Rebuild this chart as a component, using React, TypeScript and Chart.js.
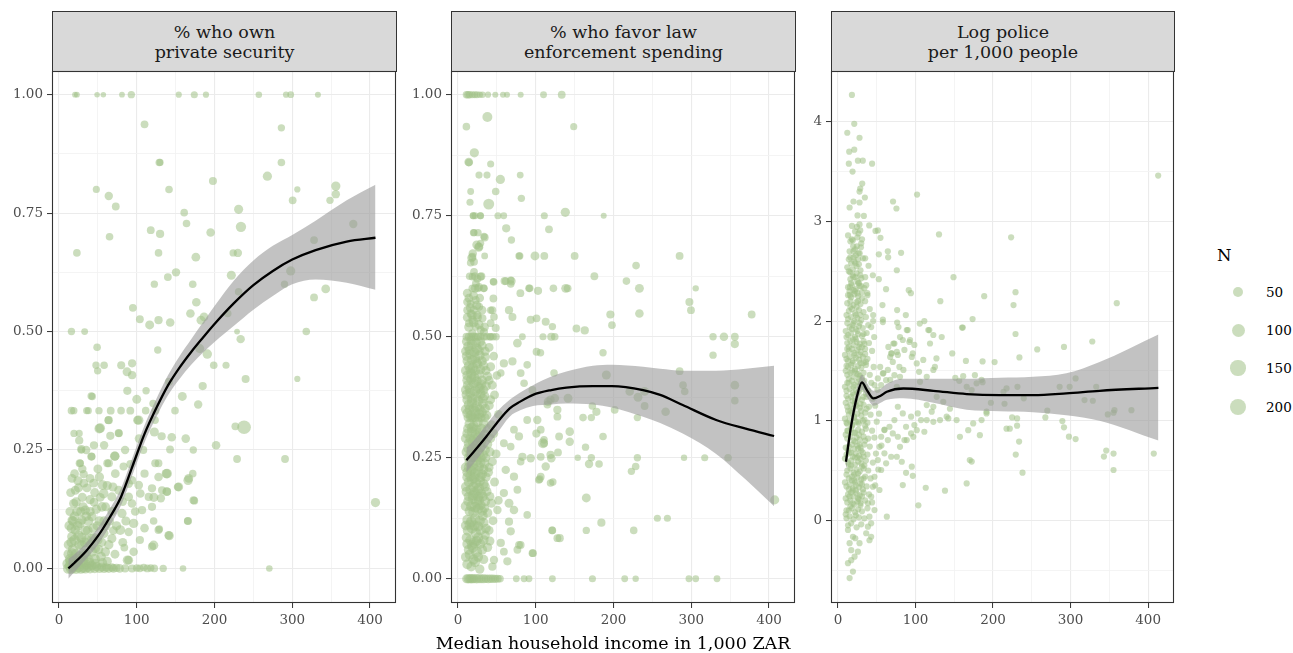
import React, { useEffect, useRef } from 'react';
import { Chart, registerables } from 'chart.js';

Chart.register(...registerables);
Chart.defaults.font.family = "'DejaVu Serif', serif";

const incomeTicks = [0, 100, 200, 300, 400];
const incomeMinorTicks = [50, 150, 250, 350];
const shareTicks = [0, 0.25, 0.5, 0.75, 1];
const shareMinorTicks = [0.125, 0.375, 0.625, 0.875];
const policeTicks = [0, 1, 2, 3, 4];
const policeMinorTicks = [-0.5, 0.5, 1.5, 2.5, 3.5];
const sizeLegendN = [50, 100, 150, 200];
const facetTitles = [
  ['% who own', 'private security'],
  ['% who favor law', 'enforcement spending'],
  ['Log police', 'per 1,000 people'],
];
const xAxisTitle = 'Median household income in 1,000 ZAR';
const legendTitle = 'N';

// [income (1,000 ZAR), share, N]
const securityPoints: number[][] = [
  [20.6,1,4],[23,1,4],[49,1,3],[57,1,3],[81,1,4],[93,1,14],[154,1,6],[174,1,12],[189,1,6],[257,1,8],[292,1,6],[298,1,10],[333,1,5],
  [110,0.9375,18],[286,0.93,14],[129,0.857,16],[130,0.857,12],[286,0.857,16],[268,0.828,34],[198,0.818,20],[141.5,0.8,16],[48,0.8,12],
  [64,0.786,24],[73,0.764,18],[306.5,0.8,6],[356,0.807,34],[356,0.79,24],[348.5,0.777,14],[300.5,0.777,18],[161,0.751,16],[231,0.758,32],
  [234,0.721,50],[164,0.728,16],[118,0.714,18],[130,0.706,22],[195,0.709,26],[65,0.7,16],[23,0.666,16],[128,0.666,16],[224,0.666,14],
  [230,0.666,24],[176,0.657,28],[378.5,0.727,24],[328,0.693,18],[221.6,0.619,32],[150.5,0.625,24],[140,0.615,18],[122.6,0.6,14],[172,0.6,16],
  [298,0.628,34],[290,0.6,14],[231,0.584,16],[176.6,0.562,26],[328,0.572,18],[343,0.59,28],[95,0.55,18],[169,0.538,26],[186.5,0.531,28],
  [217,0.538,16],[104,0.526,18],[116.6,0.514,30],[128,0.524,22],[143,0.519,26],[182.6,0.524,30],
  [16,0.5,14],[33,0.5,10],[229,0.5,4],[318,0.5,16],
  [233.6,0.484,24],[49,0.467,16],[127,0.461,14],[190.7,0.4525,36],[181,0.464,32],[47.6,0.429,14],[58,0.429,16],[80,0.429,20],[94,0.433,22],
  [87.5,0.415,30],[94,0.408,22],[49.7,0.417,14],[199,0.429,16],[214.8,0.429,12],[240,0.4,20],[306.5,0.4,6],[141.5,0.394,18],[184.8,0.385,22],
  [87.9,0.375,22],[112,0.375,14],[42.8,0.363,14],[100,0.357,30],[158.6,0.363,30],[121,0.348,16],[179,0.346,24],
  [16,0.333,16],[19,0.333,14],[35.6,0.333,12],[37.7,0.333,12],[51.4,0.333,14],[66.5,0.333,18],[79.8,0.333,16],[91.7,0.333,18],[111.5,0.333,16],
  [124,0.333,18],[149.2,0.333,16],
  [63.4,0.313,18],[51.8,0.295,40],[101,0.313,28],[123.5,0.313,16],[19.3,0.285,14],[26,0.285,12],[77,0.285,16],[122.6,0.288,32],[132,0.279,22],
  [145,0.277,26],[163,0.274,26],[226.8,0.3,18],[238,0.298,115],[202,0.26,26],[103,0.274,28],[108.5,0.25,18],[142.8,0.251,18],[172.7,0.25,14],
  [229,0.231,18],[290.7,0.231,18],[28.7,0.25,16],[42,0.236,16],[72,0.237,32],[62,0.222,18],[27.4,0.222,14],[128,0.222,18],[138,0.2,36],
  [172,0.2,16],[166,0.186,36],[153,0.172,24],[138.5,0.162,28],[122,0.15,32],[131,0.148,24],[174,0.143,18],[407,0.139,34],[165.5,0.1,16],
  [121.7,0.1,16],[129,0.083,16],[141.9,0.069,30],[121.7,0.049,36],[88,0.0175,36],[84,0.044,18],[270.5,0,8],[159.5,0,8],
  [134,0,14],[122.6,0,16],[113.6,0,18],[104,0,16],[94,0,20],[85,0,22],[78,0,26],[70,0,28],[64,0,30],[58,0,34],[52,0,36],[46,0,40],[40,0,44],
  [34,0,48],[28,0,55],[22,0,60],[16,0,65],[12,0,55],[18,0.003,70],[25,0.004,60],[31,0.002,50],[37,0.003,45],[14,0.006,50],[20,0.01,60],
  [24,0.014,55],[30,0.012,50],[35,0.008,45],[42,0.006,40],[48,0.004,34],[55,0.003,30],[61,0.002,26],[68,0.002,24],[74,0.001,22],[100,0.001,16],
  [109,0.002,16],[118,0.001,14],
  [41.5,0.364,16],[53,0.296,40],[76.8,0.286,20],[64,0.313,22],[102.5,0.313,36],[28.7,0.252,22],[41.6,0.236,22],[71.6,0.237,36],[64,0.222,22],
  [26.6,0.222,20],[16.7,0.19,30],[31.7,0.199,24],[24.4,0.185,34],[21,0.165,30],[52,0.193,34],[44.6,0.18,30],[56,0.176,40],[72.4,0.2,28],
  [57.4,0.158,40],[69.4,0.172,32],[83,0.215,20],[93.9,0.186,24],[102.5,0.176,28],[104.6,0.158,26],[119.6,0.169,22],[89.6,0.151,28],[81.9,0.141,26],
  [18.9,0.137,34],[33.8,0.123,36],[29.6,0.102,32],[16.7,0.102,32],[21,0.081,40],[42.4,0.109,36],[55.3,0.13,40],[68,0.12,32],[81,0.116,34],
  [96,0.095,36],[78.8,0.081,40],[89.6,0.077,24],[57.4,0.074,40],[42.4,0.063,40],[68,0.063,32],[16.7,0.067,40],[29.6,0.049,45],[46.7,0.042,36],
  [59.6,0.035,36],[16.7,0.032,45],[38.2,0.0175,45],[89.6,0.0175,30],[119.6,0.046,22],[128,0.081,20],[141,0.07,26],[115.4,0.151,22],[119.6,0.13,22],
  [106.8,0.123,22],[132.5,0.165,20],[139,0.162,22],[128,0.193,26],[123.8,0.222,20],[139,0.2,40],[154,0.172,30],[166.8,0.19,30],[173,0.144,20],
  [165.9,0.1,20],[89.6,0.179,26],[93.9,0.137,26],[76.8,0.165,30],[68,0.151,32],
  [14,0.02,45],[18,0.04,50],[22,0.03,55],[26,0.05,45],[32,0.03,50],[36,0.06,45],[24,0.09,40],[28,0.12,34],[20,0.11,38],[34,0.08,45],[38,0.1,40],
  [44,0.085,40],[50,0.06,36],[52,0.1,40],[48,0.125,36],[40,0.145,34],[30,0.15,32],[22,0.14,38],[14,0.12,30],[12,0.05,34],[16,0.085,38],[26,0.02,50],
  [46,0.02,50],[54,0.025,40],[62,0.015,34],[72,0.03,30],[64,0.05,36],[60,0.09,38],[36,0.17,30],[46,0.16,32],[62,0.175,34],[30,0.21,24],[20,0.2,28],
  [50,0.21,30],[58,0.1,36],[74,0.09,34],[82,0.055,30],[96,0.035,26],[104,0.06,22],[110,0.085,26],[98,0.12,26],[86,0.1,32],
  [11,0.01,50],[15,0.015,55],[19,0.02,60],[23,0.008,60],[27,0.025,55],[31,0.018,50],[35,0.03,45],[39,0.012,45],[43,0.035,40],[47,0.01,40],
  [51,0.04,36],[56,0.012,34],[12,0.03,40],[16,0.055,45],[20,0.06,50],[25,0.07,48],[29,0.065,45],[33,0.055,44],[37,0.08,40],[41,0.05,40],
  [45,0.065,36],[49,0.09,34],[55,0.055,32],[13,0.09,36],[18,0.1,40],[23,0.12,38],[27,0.095,40],[31,0.13,34],[35,0.11,36],[40,0.12,34],
  [45,0.14,30],[53,0.15,30],[60,0.13,30],[65,0.1,30],[70,0.08,28],[15,0.16,30],[25,0.17,32],[32,0.18,28],[40,0.19,28],[26,0.27,22],[35,0.25,24],
  [45,0.26,22],[58,0.26,24],[66,0.28,22],[85,0.25,24],[92,0.22,22],[110,0.2,22],
];

// [income (1,000 ZAR), share, N]
const spendingPoints: number[][] = [
  [10.8,1,14],[12.9,1,16],[15,1,14],[18.5,1,12],[21.5,1,10],[24.4,1,10],[27.9,1,8],[31.4,1,8],[38.6,1,6],[48,1,5],[57.9,1,5],[63,1,5],[80.6,1,5],
  [110,1,10],[133.4,1,18],
  [37.8,0.954,44],[10.8,0.934,16],[148.8,0.934,12],[21,0.88,34],[13.8,0.861,28],[42,0.857,12],[27,0.834,12],[37.3,0.834,12],[54.5,0.825,34],
  [80,0.834,10],[16.3,0.8,10],[48.5,0.8,16],[81.5,0.786,14],[15.4,0.778,12],[39.5,0.774,60],
  [19.3,0.75,10],[22,0.75,10],[28.8,0.75,10],[51.4,0.75,12],[58.8,0.75,10],[111,0.75,12],[187.4,0.75,5],[138,0.757,34],
  [62,0.724,22],[117,0.722,18],[68.7,0.7,14],[20,0.715,14],[25.7,0.715,14],[34.3,0.705,20],[26.6,0.685,34],[24,0.69,28],[17.6,0.663,30],
  [19,0.672,24],[34.3,0.667,10],[79.4,0.667,14],[99,0.667,30],[111,0.667,18],[150,0.667,18],[285,0.667,18],[229,0.647,16],[175.4,0.625,18],
  [216.6,0.615,16],[305.7,0.6,7],[233.3,0.6,30],[138.5,0.6,30],[141,0.6,18],[122.7,0.6,16],[92.2,0.6,16],[102.9,0.595,22],[80.2,0.59,18],
  [68.7,0.615,26],[60,0.615,22],[45.9,0.613,16],[15,0.625,16],[21.5,0.625,18],[30,0.625,20],[18.5,0.6,18],[25.7,0.6,20],[33,0.6,16],
  [297.6,0.572,20],[299.6,0.555,18],[377.7,0.546,18],[196,0.546,22],[198,0.524,16],[233.3,0.548,26],
  [152.3,0.517,18],[163,0.513,22],[186.5,0.467,14],[356,0.485,22],[328,0.462,14],[285,0.429,18],[289.4,0.4,16],[291.6,0.387,16],[356,0.4,28],
  [356,0.368,16],[190.8,0.421,32],[141.5,0.373,30],[115.8,0.366,26],[124.4,0.373,28],[220.8,0.387,26],[231.5,0.375,30],[240,0.387,28],
  [240,0.357,18],[267,0.345,26],[172.8,0.357,16],[178,0.345,22],[201.5,0.349,18],[160.8,0.333,16],[171.5,0.333,14],[230.7,0.333,14],
  [143.7,0.304,26],[143.7,0.283,24],[130,0.294,18],[109.3,0.28,44],[100.8,0.3,22],[164,0.272,14],[186.5,0.294,16],[128.6,0.261,18],
  [120,0.249,26],[154,0.25,7],[171.5,0.25,14],[168.5,0.237,24],[181.4,0.237,16],[230.7,0.25,14],[228.5,0.232,16],[223,0.222,14],[290.7,0.25,7],
  [317.3,0.25,12],[347.3,0.25,16],[112.8,0.232,24],[105,0.206,18],[122,0.2,14],[165,0.167,30],[407.3,0.163,32],[184.4,0.116,22],[256.4,0.125,12],
  [269.3,0.125,12],[165,0.1,14],[226,0.1,16],[121,0.1,16],[130.8,0.084,22],[96.5,0.053,18],[78.5,0.07,18],[63.5,0.036,22],
  [11,0.5,20],[14,0.5,24],[17,0.5,20],[20,0.5,26],[23,0.5,18],[26,0.5,22],[29,0.5,18],[33,0.5,20],[37,0.5,16],[41,0.5,14],[45,0.5,16],[49,0.5,14],
  [82.8,0.5,10],[109.3,0.5,12],[120,0.5,22],[124.4,0.5,16],[328,0.5,14],[342,0.5,26],[356,0.5,18],
  [11,0,30],[13,0,34],[15,0,30],[17,0,36],[19,0,32],[21,0,30],[24,0,36],[27,0,32],[30,0,30],[33,0,32],[36,0,26],[39,0,28],[42,0,24],[45,0,26],
  [48,0,22],[51,0,20],[54,0,16],[75,0,10],[85,0,10],[91.3,0,10],[121.4,0,10],[172.9,0,12],[214.4,0,10],[228.5,0,7],[297,0,10],[305.7,0,10],[333.1,0,10],
  [76.4,0.487,28],[70,0.449,22],[89,0.442,16],[101,0.469,18],[106,0.467,16],[80.6,0.425,18],[59,0.445,22],[55,0.425,16],[123.5,0.425,16],
  [85,0.404,16],[95.7,0.39,18],[119,0.37,22],[115,0.36,18],[127.8,0.349,22],[127.8,0.335,18],[102,0.328,24],[89,0.328,18],[72,0.308,18],
  [78.4,0.294,22],[67.8,0.273,16],[59,0.28,18],[110.6,0.28,18],[82.8,0.252,22],[93.5,0.249,24],[80.6,0.242,16],[106.4,0.252,18],[119,0.256,22],
  [61.4,0.225,24],[72,0.211,22],[106.4,0.211,18],[119,0.198,16],[59,0.177,22],[76.4,0.184,18],[65.6,0.156,30],[50.7,0.142,24],[72,0.142,26],
  [89,0.132,16],[65.6,0.118,22],[67.8,0.098,22],[80.6,0.07,18],[76.4,0.06,18],[55,0.074,22],[59,0.056,18],[46.3,0.039,24],[44.2,0.025,22],
  [95.7,0.053,16],[121.4,0.1,16],[127.8,0.084,18],[104,0.204,16],[106.4,0.308,18],[110.6,0.287,16],
  [14,0.86,16],[19.8,0.75,12],[29,0.75,12],[20.6,0.715,12],[33.4,0.707,14],[27,0.686,20],[29,0.693,14],[18.5,0.665,20],[20.6,0.655,18],
  [16.3,0.653,16],[20.6,0.634,18],[18.5,0.624,16],[25,0.62,20],[29,0.624,18],[23,0.61,18],[27,0.603,20],[33.4,0.6,16],
  [12,0.572,24],[16.3,0.568,22],[22.8,0.576,20],[27,0.562,22],[20.6,0.555,24],[12,0.555,20],[16.3,0.548,22],[25,0.545,24],[31.4,0.538,20],
  [18.5,0.535,22],[14.2,0.528,20],[22.8,0.521,24],[29.2,0.514,20],[18.5,0.507,22],[33.4,0.51,20],[42,0.528,18],[46.3,0.541,16],[44.2,0.555,18],
  [48.5,0.518,20],[42,0.5,16],[65.6,0.555,22],[70,0.541,20],[91.3,0.6,16],[93.5,0.535,20],[101,0.538,18],[112.8,0.531,20],[121.4,0.521,14],
  [45.5,0.579,18],[45.5,0.614,14],[61.4,0.615,18],[67.8,0.617,14],[67.8,0.609,16],[42,0.555,14],[78.5,0.667,14],
  [12,0.03,45],[17,0.025,40],[22,0.035,50],[28,0.02,36],
  [14,0.06,48],[19,0.065,55],[24,0.055,60],[31,0.06,45],[38,0.065,36],
  [11,0.085,40],[16,0.08,50],[21,0.075,58],[26,0.085,48],[33,0.08,42],[41,0.078,32],
  [13,0.1,55],[18,0.105,60],[23,0.095,50],[29,0.1,44],[36,0.104,38],
  [12,0.122,44],[17,0.118,55],[22,0.125,48],[28,0.12,50],[33,0.116,40],[45,0.12,30],
  [15,0.14,48],[20,0.138,58],[26,0.145,50],[31,0.14,44],[38,0.136,38],
  [13,0.16,40],[19,0.165,50],[24,0.158,60],[27,0.162,44],[35,0.16,46],[43,0.156,32],[52,0.162,26],
  [11,0.18,44],[16,0.184,50],[21,0.178,55],[25,0.182,48],[30,0.176,44],[37,0.18,38],
  [14,0.2,48],[18,0.205,55],[23,0.198,58],[28,0.202,50],[33,0.196,44],[47,0.2,30],
  [12,0.22,44],[17,0.224,50],[22,0.218,48],[26,0.222,55],[31,0.216,44],[39,0.22,36],
  [15,0.24,50],[19,0.236,48],[24,0.244,58],[29,0.24,44],[34,0.238,46],[44,0.242,32],
  [13,0.25,30],[17,0.25,32],[21,0.25,30],[25,0.25,26],[30,0.25,30],[36,0.25,26],
  [11,0.262,44],[16,0.258,50],[21,0.264,48],[27,0.26,55],[32,0.256,44],[41,0.262,36],[49,0.258,30],
  [14,0.28,48],[19,0.284,55],[24,0.276,50],[30,0.282,44],[38,0.278,36],
  [12,0.3,44],[18,0.304,50],[23,0.296,58],[28,0.302,48],[35,0.298,42],[46,0.3,30],
  [15,0.32,50],[20,0.316,48],[25,0.324,55],[33,0.32,42],[43,0.318,34],
  [13,0.333,32],[16,0.333,30],[19,0.333,36],[22,0.333,30],[26,0.333,32],[30,0.333,26],[35,0.333,30],
  [12,0.342,44],[17,0.338,48],[22,0.346,50],[27,0.34,44],[31,0.344,38],[37,0.338,34],[52,0.34,26],
  [14,0.36,48],[18,0.364,50],[24,0.356,55],[32,0.362,42],[40,0.358,36],
  [11,0.38,44],[16,0.384,48],[23,0.376,55],[29,0.382,46],[34,0.378,38],[47,0.38,30],
  [13,0.4,50],[20,0.404,48],[26,0.396,55],[30,0.402,42],[36,0.398,38],[44,0.4,30],
  [12,0.42,44],[17,0.424,50],[21,0.416,46],[27,0.422,42],[38,0.418,36],[50,0.42,26],
  [14,0.44,46],[19,0.436,50],[25,0.444,42],[33,0.44,38],[42,0.438,30],
  [11,0.46,38],[16,0.464,46],[22,0.456,50],[28,0.462,42],[35,0.458,36],[46,0.46,26],
  [13,0.48,42],[18,0.484,46],[24,0.476,50],[31,0.482,36],[40,0.478,30],
  [14,0.52,36],[20,0.53,40],[27,0.525,34],[34,0.52,30],[16,0.56,34],[24,0.565,30],[31,0.555,28],[12,0.59,30],[20,0.585,32],
  [10,0.045,40],[15,0.05,45],[20,0.04,50],[26,0.045,40],[33,0.04,34],
  [12,0.072,45],[18,0.07,50],[24,0.078,44],[29,0.072,40],[35,0.09,34],
  [10,0.11,40],[15,0.112,48],[21,0.11,52],[26,0.108,46],[32,0.13,40],[40,0.1,30],
  [10,0.15,44],[17,0.15,50],[22,0.148,55],[29,0.152,44],[34,0.146,36],
  [14,0.17,48],[19,0.172,52],[26,0.17,48],[32,0.17,40],[41,0.17,30],
  [10,0.19,40],[20,0.19,50],[27,0.188,46],[35,0.19,36],
  [12,0.21,46],[16,0.212,50],[21,0.208,52],[29,0.21,44],[36,0.21,34],
  [10,0.23,42],[14,0.23,48],[20,0.228,52],[27,0.232,46],[33,0.226,38],[40,0.23,30],
  [13,0.27,46],[18,0.27,50],[23,0.268,52],[29,0.272,44],[35,0.266,36],
  [10,0.29,40],[16,0.29,48],[21,0.288,52],[26,0.292,46],[32,0.29,40],[42,0.29,30],
  [13,0.31,46],[18,0.312,50],[23,0.308,48],[30,0.31,42],[38,0.31,34],
  [10,0.35,40],[15,0.35,46],[20,0.352,50],[28,0.35,44],[35,0.352,36],
  [12,0.37,44],[18,0.372,48],[26,0.368,50],[32,0.372,40],[42,0.37,30],
  [10,0.39,40],[15,0.392,46],[22,0.388,50],[28,0.392,44],[33,0.39,36],
  [12,0.41,44],[17,0.412,48],[24,0.408,46],[31,0.41,40],[40,0.41,30],
  [10,0.43,40],[16,0.432,46],[22,0.43,44],[29,0.432,38],[36,0.43,32],
  [12,0.45,40],[18,0.452,44],[24,0.448,42],[31,0.45,36],
  [10,0.47,36],[15,0.472,42],[21,0.468,44],[27,0.472,38],[35,0.47,30],
  [11,0.49,34],[17,0.492,38],[23,0.488,40],[29,0.49,34],
  [12,0.54,30],[18,0.545,34],[25,0.54,30],[14,0.58,28],[22,0.6,30],[28,0.58,26],
];

// [income (1,000 ZAR), log police per 1,000]
const policePoints: number[][] = [
  [18,4.27],[21,3.98],[12,3.89],[27.8,3.84],[14.5,3.7],[21,3.72],[14,3.58],[25.7,3.61],[32,3.61],[44,3.58],[18.8,3.5],[413,3.46],[31.3,3.38],
  [28.7,3.33],[27.8,3.3],[102,3.27],[71,3.2],[75.4,3.13],[20,3.2],[27.8,3.19],[34.7,3.24],[15,3.14],[25.2,3.06],[33.4,3.055],[18,2.955],
  [24.4,2.945],[27.8,2.97],[28.7,2.91],[26.5,2.88],[40.3,2.96],[48.4,2.905],[51.4,2.91],[54.8,2.835],[130.3,2.87],[223.3,2.84],[19.2,2.81],
  [24.4,2.75],[29.6,2.74],[19.6,2.75],[15.8,2.64],[20,2.64],[26.5,2.68],[32.2,2.63],[35.1,2.63],[22.3,2.58],[39.4,2.555],[52.7,2.67],[64.3,2.7],
  [64.7,2.64],[81.4,2.685],[75.9,2.51],[15.8,2.49],[22.3,2.44],[28.7,2.46],[35.1,2.44],[27,2.38],[36.4,2.36],[45,2.46],[52.7,2.42],[149,2.44],
  [15.4,2.34],[20,2.31],[25.2,2.28],[30.8,2.29],[15.4,2.26],[37.8,2.28],[62,2.32],[91.3,2.31],[94,2.28],[188.6,2.25],[229,2.29],[226.4,2.16],
  [132,2.2],[359.6,2.18],[57.4,2.16],[76.3,2.11],[87.5,2.06],[45.4,2.06],[45.4,2],[57.9,2.015],[57.9,1.99],[76.3,1.985],[105.5,1.975],[111.4,2],
  [173.6,2.02],[160,1.935],[161,1.935],[117.8,1.91],[90,1.91],
  [78,1.94],[42.8,1.94],[46.7,1.84],[88.7,1.91],[93,1.81],[80,1.84],[71.5,1.775],[65,1.74],[69.4,1.675],[67.3,1.64],[75.9,1.69],[116.5,1.91],
  [123,1.86],[118.7,1.775],[133.8,1.84],[229,1.87],[291.5,1.74],[257,1.715],[328,1.795],[147.4,1.675],[234,1.635],[165,1.6],[186.5,1.595],
  [202,1.588],[95.2,1.64],[110,1.61],[101.6,1.575],[127,1.625],[123,1.51],[125,1.54],[54.4,1.54],[58.6,1.475],[67.3,1.41],[80,1.44],[84.4,1.51],
  [75.9,1.34],[104.6,1.49],[114.5,1.44],[105.8,1.39],[151.3,1.43],[161.5,1.447],[176.6,1.457],[185.2,1.41],[166,1.34],[156.4,1.4],[172.4,1.307],
  [178.8,1.375],[186.5,1.387],[213.5,1.29],[217.4,1.324],[231.5,1.34],[239.6,1.224],[214.8,1.17],[197.2,1.18],[191.6,1.09],[285.9,1.34],
  [298.8,1.34],[306.5,1.424],[333.1,1.34],[318,1.207],[328.7,1.2],[270,1.1],[356.6,1.106],[378.5,1.106],[348,1.063],[355.4,1.08],[267.5,1.033],
  [231,1.023],[224.6,1.033],[217.4,0.92],[221.6,0.92],[231,0.95],[289.4,0.996],[291.5,0.933],[297.9,0.84],[306.5,0.815],[233.6,0.79],[229.3,0.66],
  [346,0.7],[343,0.64],[355.4,0.67],[355.4,0.505],[407.3,0.67],[238,0.478],[166,0.37],[138,0.297],[113.2,0.327],[103.7,0.15],[83.6,0.354],
  [96.5,0.447],[87.8,0.477],[95.2,0.538],[82.3,0.588],[75.9,0.638],[80,0.738],[88.7,0.805],[97.2,0.838],[101.6,0.905],[111.4,0.889],[114.5,1.006],
  [123,0.989],[131.6,1.006],[140.2,1.04],[153,1.006],[157.3,0.838],[168,0.905],[174.4,0.973],[185.2,1.006],[191.6,1.073],[123,1.14],[135.8,1.19],
  [144.4,1.12],[142.3,1.023],[127.3,1.24],[114.5,1.157],[120.9,1.09],[170,0.605],[172.5,0.59],[183,0.855],[63,0.036],
  [15,-0.58],[19.3,-0.515],[12.9,-0.43],[17.1,-0.4],[21.4,-0.365],[17.1,-0.3],[15,-0.23],[19.3,-0.165],[12.9,-0.097],[25.7,-0.315],[27.8,-0.23],
  [22.3,-0.18],[38.6,-0.064],[36.4,-0.13],[42.8,-0.165],[40.6,-0.2],
  [72.8,1.775],[83.6,1.81],[92.1,1.79],[98.5,1.76],[96.5,1.675],[85.7,1.71],[77.2,1.66],[70.7,1.59],[64.3,1.51],[57.9,1.474],[51.4,1.424],
  [47.1,1.357],[55.7,1.357],[62.1,1.407],[72.8,1.457],[79.2,1.54],[68.6,1.675],[77.2,1.14],[83.6,1.073],[94.3,1.04],[102.9,1.073],[107.1,1.006],
  [98.5,0.956],[87.8,0.939],[72.8,1.006],[66.4,0.939],[59.9,0.906],[55.7,0.839],[64.3,0.805],[70.7,0.872],[77.2,0.839],[85.7,0.805],[94.3,0.872],
  [53.5,0.738],[59.9,0.672],[51.4,0.605],[62.1,0.572],[68.6,0.638],[55.7,0.505],[47.1,0.437],[45,0.337],[53.5,0.304],[42.8,0.237],[38.6,0.171],
  [47.1,0.103],[40.6,0.036],[42.8,-0.03],
  [13,-0.05],[17,-0.03],[24,-0.07],[30,-0.04],
  [11,0.02],[15,0.04],[20,0.01],[27,0.03],[34,0.02],
  [14,0.1],[18,0.12],[22,0.08],[26,0.11],[31,0.09],[38,0.12],
  [12,0.18],[16,0.2],[21,0.16],[25,0.19],[29,0.17],[35,0.2],[44,0.18],
  [13,0.26],[17,0.28],[20,0.24],[24,0.27],[28,0.25],[33,0.28],[40,0.26],
  [11,0.34],[15,0.36],[19,0.32],[23,0.35],[27,0.33],[31,0.36],[37,0.34],[48,0.35],
  [14,0.42],[18,0.44],[21,0.4],[25,0.43],[30,0.41],[35,0.44],[42,0.42],
  [12,0.5],[16,0.52],[20,0.48],[24,0.51],[28,0.49],[33,0.52],[39,0.5],[52,0.51],
  [13,0.58],[17,0.6],[22,0.56],[26,0.59],[30,0.57],[36,0.6],[45,0.58],
  [11,0.66],[15,0.68],[19,0.64],[23,0.67],[27,0.65],[32,0.68],[38,0.66],[49,0.67],
  [14,0.74],[18,0.76],[21,0.72],[25,0.75],[29,0.73],[34,0.76],[41,0.74],[56,0.75],
  [12,0.82],[16,0.84],[20,0.8],[24,0.83],[28,0.81],[33,0.84],[39,0.82],[47,0.83],
  [13,0.9],[17,0.92],[22,0.88],[26,0.91],[31,0.89],[36,0.92],[44,0.9],[60,0.91],
  [11,0.98],[15,1],[19,0.96],[23,0.99],[27,0.97],[32,1],[38,0.98],[50,0.99],
  [14,1.06],[18,1.08],[21,1.04],[25,1.07],[30,1.05],[35,1.08],[42,1.06],[53,1.07],
  [12,1.14],[16,1.16],[20,1.12],[24,1.15],[28,1.13],[33,1.16],[40,1.14],[48,1.15],
  [13,1.22],[17,1.24],[22,1.2],[26,1.23],[31,1.21],[37,1.24],[45,1.22],
  [11,1.3],[15,1.32],[19,1.28],[23,1.31],[27,1.29],[32,1.32],[39,1.3],[51,1.31],
  [14,1.38],[18,1.4],[21,1.36],[25,1.39],[29,1.37],[34,1.4],[43,1.38],
  [12,1.46],[16,1.48],[20,1.44],[24,1.47],[28,1.45],[33,1.48],[41,1.46],
  [13,1.54],[17,1.56],[22,1.52],[26,1.55],[30,1.53],[36,1.56],[46,1.54],
  [11,1.62],[15,1.64],[19,1.6],[23,1.63],[27,1.61],[32,1.64],[38,1.62],
  [14,1.7],[18,1.72],[21,1.68],[25,1.71],[29,1.69],[35,1.72],[44,1.7],
  [12,1.78],[16,1.8],[20,1.76],[24,1.79],[28,1.77],[33,1.8],[40,1.78],
  [13,1.86],[17,1.88],[22,1.84],[26,1.87],[31,1.85],[37,1.88],
  [15,1.94],[19,1.96],[23,1.92],[27,1.95],[32,1.93],[39,1.96],
  [13,2.02],[17,2.04],[21,2],[25,2.03],[30,2.01],[36,2.04],
  [14,2.1],[18,2.12],[22,2.08],[27,2.11],[33,2.09],[41,2.12],
  [12,2.18],[16,2.2],[20,2.16],[24,2.19],[29,2.17],[35,2.2],
  [17,2.24],[21,2.27],[26,2.25],[31,2.23],[38,2.26],
  [13,2.34],[18,2.36],[23,2.32],[28,2.35],[34,2.33],
  [16,2.42],[20,2.44],[25,2.4],[30,2.43],
  [14,2.5],[19,2.52],[24,2.48],[29,2.51],
  [17,2.58],[21,2.6],[27,2.57],
  [15,2.7],[22,2.72],[28,2.68],
  [18,2.82],[25,2.84],
  [10,0.06],[16,0.14],[23,0.05],[29,0.15],[10,0.22],[19,0.3],[26,0.22],[32,0.31],[9,0.38],[21,0.46],[29,0.37],[17,0.55],[25,0.63],[31,0.54],
  [9,0.62],[13,0.7],[22,0.79],[30,0.7],[10,0.86],[18,0.95],[27,0.86],[35,0.95],[9,1.02],[16,1.1],[23,1.19],[30,1.1],[10,1.18],[20,1.26],
  [28,1.35],[36,1.27],[9,1.34],[14,1.42],[22,1.5],[31,1.43],[10,1.5],[19,1.58],[28,1.66],[36,1.59],[9,1.66],[14,1.74],[23,1.82],[31,1.74],
  [10,1.9],[20,1.98],[29,2.06],[11,2.06],[24,2.14],[15,2.3],[26,2.38],[19,2.46],[12,2.54],[23,2.66],[13,2.86],[30,2.78],
  [11,0.1],[15,0.24],[19,0.17],[23,0.3],[27,0.21],[31,0.24],[14,0.31],[22,0.38],[33,0.42],[11,0.46],[18,0.4],[26,0.47],[14,0.56],[22,0.63],
  [29,0.62],[34,0.55],[10,0.73],[17,0.68],[26,0.72],[33,0.64],[12,0.9],[20,0.88],[28,0.76],[35,0.8],[12,0.97],[21,1.03],[26,0.99],[34,1.01],
  [13,1.1],[22,1.16],[29,1.17],[37,1.12],[11,1.25],[19,1.2],[25,1.28],[33,1.24],[12,1.38],[20,1.34],[27,1.42],[35,1.34],[11,1.55],[18,1.5],
  [26,1.47],[33,1.58],[13,1.6],[21,1.66],[29,1.58],[35,1.67],[12,1.72],[19,1.82],[27,1.74],[34,1.77],[11,1.84],[18,1.92],[25,1.9],[33,1.87],
  [12,1.98],[23,2.06],[28,1.98],[16,2.14],[26,2.2],[13,2.26],[22,2.3],[30,2.35],[17,2.38],[24,2.55],[14,2.62],[20,2.7],[26,2.62],[16,2.8],
  [22,2.9],[31,2.82],
];

const securityFitX = [12, 20, 35, 50, 65, 80, 95, 110, 125, 140, 155, 170, 185, 200, 225, 250, 275, 300, 330, 370, 407];
const securityFit = [0, 0.012, 0.037, 0.068, 0.107, 0.152, 0.218, 0.284, 0.338, 0.386, 0.424, 0.457, 0.487, 0.516, 0.56, 0.598, 0.628, 0.652, 0.672, 0.69, 0.698];
const securityLow = [-0.022, -0.007, 0.02, 0.05, 0.089, 0.134, 0.2, 0.266, 0.319, 0.365, 0.4, 0.43, 0.455, 0.478, 0.512, 0.546, 0.575, 0.6, 0.61, 0.603, 0.588];
const securityHigh = [0.02, 0.03, 0.054, 0.086, 0.125, 0.17, 0.236, 0.302, 0.357, 0.407, 0.448, 0.484, 0.519, 0.554, 0.608, 0.65, 0.681, 0.704, 0.734, 0.777, 0.81];

const spendingFitX = [10.8, 20, 36.5, 50, 66.5, 80, 96.5, 120, 139.4, 173.6, 198, 238, 260, 289, 332, 370, 406.5];
const spendingFit = [0.245, 0.262, 0.294, 0.322, 0.352, 0.366, 0.38, 0.39, 0.395, 0.398, 0.398, 0.39, 0.38, 0.359, 0.328, 0.31, 0.295];
const spendingLow = [0.22, 0.238, 0.272, 0.3, 0.335, 0.348, 0.357, 0.36, 0.362, 0.36, 0.354, 0.335, 0.322, 0.3, 0.258, 0.205, 0.15];
const spendingHigh = [0.27, 0.285, 0.318, 0.345, 0.37, 0.385, 0.4, 0.418, 0.428, 0.44, 0.442, 0.438, 0.434, 0.43, 0.43, 0.434, 0.44];

const policeFitX = [10.3, 17, 24.4, 30.9, 37.3, 45.8, 55, 63, 84.4, 123, 166, 208.7, 251.6, 294.5, 337.4, 413.3];
const policeFit = [0.588, 0.95, 1.24, 1.384, 1.307, 1.223, 1.25, 1.29, 1.323, 1.3, 1.267, 1.257, 1.257, 1.274, 1.3, 1.33];
const policeLow = [0.5, 0.87, 1.16, 1.31, 1.235, 1.15, 1.18, 1.21, 1.225, 1.18, 1.11, 1.095, 1.085, 1.055, 1.0, 0.8];
const policeHigh = [0.68, 1.03, 1.32, 1.46, 1.38, 1.3, 1.32, 1.37, 1.42, 1.42, 1.42, 1.43, 1.44, 1.475, 1.59, 1.866];

// ---- styling ----
const POINT_COLOR = 'rgba(160,193,134,0.55)';
const RIBBON_COLOR = 'rgba(153,153,153,0.6)';
const PANEL_LEFT = [52, 451, 831];
const PANEL_WIDTH = [344, 344, 343];
const PLOT_TOP = 71;
const PLOT_BOTTOM = 603;
const Y_AXIS_W = 52;
const X_AXIS_H = 40;
const PAD = 10;
const X_MIN = -9;
const X_MAX = 433.4;
const SERIF = "'DejaVu Serif', serif";
const sizeRadius = (n: number) => 2 + 0.45 * Math.sqrt(n);

type PanelSpec = {
  points: number[][];
  sized: boolean;
  fitX: number[];
  fit: number[];
  low: number[];
  high: number[];
  yMin: number;
  yMax: number;
  yMajor: number[];
  yMinor: number[];
  fmt: (v: number) => string;
};

const panels: PanelSpec[] = [
  { points: securityPoints, sized: true, fitX: securityFitX, fit: securityFit, low: securityLow, high: securityHigh,
    yMin: -0.073, yMax: 1.05, yMajor: shareTicks, yMinor: shareMinorTicks, fmt: (v) => v.toFixed(2) },
  { points: spendingPoints, sized: true, fitX: spendingFitX, fit: spendingFit, low: spendingLow, high: spendingHigh,
    yMin: -0.05, yMax: 1.049, yMajor: shareTicks, yMinor: shareMinorTicks, fmt: (v) => v.toFixed(2) },
  { points: policePoints, sized: false, fitX: policeFitX, fit: policeFit, low: policeLow, high: policeHigh,
    yMin: -0.83, yMax: 4.51, yMajor: policeTicks, yMinor: policeMinorTicks, fmt: (v) => String(v) },
];

const panelBorder = {
  id: 'panelBorder',
  afterDraw(chart: any) {
    const { ctx, chartArea: a } = chart;
    ctx.save();
    ctx.strokeStyle = '#333333';
    ctx.lineWidth = 1.1;
    ctx.strokeRect(a.left + 0.5, a.top + 0.5, a.right - a.left - 1, a.bottom - a.top - 1);
    ctx.restore();
  },
};

function isIn(list: number[], v: number) {
  return list.some((t) => Math.abs(t - v) < 1e-9);
}

function axisOptions(major: number[], minor: number[], fmt: (v: number) => string, horizontal: boolean, min: number, max: number) {
  return {
    type: 'linear',
    min,
    max,
    position: horizontal ? 'bottom' : 'left',
    afterBuildTicks: (s: any) => {
      s.ticks = [...major, ...minor].sort((a, b) => a - b).map((v) => ({ value: v }));
    },
    afterFit: (s: any) => {
      if (horizontal) s.height = X_AXIS_H; else s.width = Y_AXIS_W;
      s.paddingTop = 0; s.paddingBottom = 0; s.paddingLeft = 0; s.paddingRight = 0;
    },
    border: { display: false },
    grid: {
      drawOnChartArea: true,
      drawTicks: true,
      tickLength: 5,
      color: (c: any) => (c.tick && isIn(major, c.tick.value) ? '#ebebeb' : '#f3f3f3'),
      lineWidth: (c: any) => (c.tick && isIn(major, c.tick.value) ? 1.1 : 0.9),
      tickColor: (c: any) => (c.tick && isIn(major, c.tick.value) ? '#333333' : 'rgba(0,0,0,0)'),
      tickWidth: 1,
    },
    ticks: {
      autoSkip: false,
      maxRotation: 0,
      minRotation: 0,
      padding: 4,
      color: '#4d4d4d',
      font: { size: 13.5, family: SERIF },
      callback: (v: any) => (isIn(major, Number(v)) ? fmt(Number(v)) : ''),
    },
  };
}

function FacetPanel({ spec, index }: { spec: PanelSpec; index: number }) {
  const ref = useRef<HTMLCanvasElement>(null);
  const w = Y_AXIS_W + PANEL_WIDTH[index] + PAD;
  const h = PAD + (PLOT_BOTTOM - PLOT_TOP) + X_AXIS_H;
  useEffect(() => {
    const pts = spec.points.map((p) => ({ x: p[0], y: p[1], n: p[2] ?? 0 }));
    const line = (ys: number[]) => ys.map((y, i) => ({ x: spec.fitX[i], y }));
    const chart = new Chart(ref.current as HTMLCanvasElement, {
      type: 'scatter',
      data: {
        datasets: [
          {
            data: pts,
            order: 3,
            pointRadius: (c: any) => (spec.sized && c.raw ? sizeRadius(c.raw.n) : 3.1),
            pointBackgroundColor: POINT_COLOR,
            pointBorderWidth: 0,
            pointBorderColor: 'rgba(0,0,0,0)',
          },
          {
            type: 'line',
            data: line(spec.high),
            order: 2,
            borderWidth: 0,
            borderColor: 'rgba(0,0,0,0)',
            pointRadius: 0,
            backgroundColor: RIBBON_COLOR,
            fill: '+1',
            cubicInterpolationMode: 'monotone',
          },
          {
            type: 'line',
            data: line(spec.low),
            order: 2,
            borderWidth: 0,
            borderColor: 'rgba(0,0,0,0)',
            pointRadius: 0,
            fill: false,
            cubicInterpolationMode: 'monotone',
          },
          {
            type: 'line',
            data: line(spec.fit),
            order: 0,
            borderWidth: 2.3,
            borderColor: '#000000',
            pointRadius: 0,
            fill: false,
            cubicInterpolationMode: 'monotone',
          },
        ] as any,
      },
      options: {
        animation: false,
        responsive: false,
        maintainAspectRatio: false,
        devicePixelRatio: 1,
        events: [],
        layout: { padding: { top: PAD, right: PAD, left: 0, bottom: 0 } },
        plugins: { legend: { display: false }, tooltip: { enabled: false } },
        scales: {
          x: axisOptions(incomeTicks, incomeMinorTicks, (v) => String(v), true, X_MIN, X_MAX),
          y: axisOptions(spec.yMajor, spec.yMinor, spec.fmt, false, spec.yMin, spec.yMax),
        } as any,
      } as any,
      plugins: [panelBorder],
    });
    return () => chart.destroy();
  }, [spec, index]);
  return (
    <canvas
      ref={ref}
      width={w}
      height={h}
      style={{ position: 'absolute', left: PANEL_LEFT[index] - Y_AXIS_W, top: PLOT_TOP - PAD, width: w, height: h }}
    />
  );
}

export default function App() {
  return (
    <div style={{ position: 'absolute', left: 0, top: 0, width: 1293, height: 653, background: '#ffffff', overflow: 'hidden', fontFamily: SERIF }}>
      {facetTitles.map((lines, i) => (
        <div
          key={'strip' + i}
          style={{
            position: 'absolute', left: PANEL_LEFT[i], top: 11, width: PANEL_WIDTH[i] + 1, height: 61, boxSizing: 'border-box',
            background: '#d9d9d9', border: '1.1px solid #333333', color: '#1a1a1a', fontSize: 17.5, lineHeight: '20px',
            display: 'flex', flexDirection: 'column', justifyContent: 'center', alignItems: 'center', textAlign: 'center',
          }}
        >
          {lines.map((t, j) => (
            <div key={j} style={{ whiteSpace: 'nowrap' }}>{t}</div>
          ))}
        </div>
      ))}
      {panels.map((p, i) => (
        <FacetPanel key={'panel' + i} spec={p} index={i} />
      ))}
      <div style={{ position: 'absolute', left: 52, width: 1122, top: 631, height: 24, lineHeight: '24px', textAlign: 'center', fontSize: 17.5, color: '#000000', whiteSpace: 'nowrap' }}>
        {xAxisTitle}
      </div>
      <div style={{ position: 'absolute', left: 1217, top: 245, fontSize: 16.5, lineHeight: '22px', color: '#000000' }}>{legendTitle}</div>
      {sizeLegendN.map((n, i) => {
        const r = sizeRadius(n);
        const cy = [292, 330, 368, 407][i];
        return (
          <React.Fragment key={'leg' + n}>
            <div style={{ position: 'absolute', left: 1238 - r, top: cy - r, width: 2 * r, height: 2 * r, borderRadius: '50%', background: POINT_COLOR }} />
            <div style={{ position: 'absolute', left: 1266, top: cy - 10, height: 20, lineHeight: '20px', fontSize: 13.5, color: '#000000' }}>{n}</div>
          </React.Fragment>
        );
      })}
    </div>
  );
}
